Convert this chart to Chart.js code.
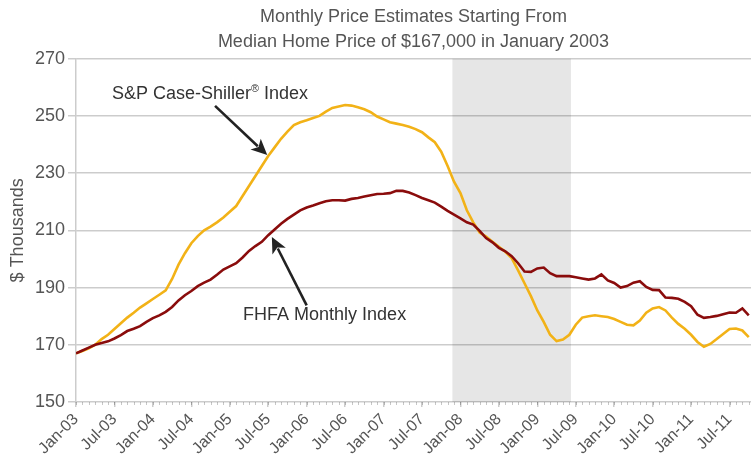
<!DOCTYPE html>
<html><head><meta charset="utf-8">
<script src="https://cdn.jsdelivr.net/npm/chart.js@4"></script>
<style>html,body{margin:0;padding:0;background:#fff}#wrap{width:751px;height:462px;position:relative}</style>
</head><body><div id="wrap"><canvas id="c"></canvas></div>
<script>
// Tick labels every six months starting Jan-03 (month index 0)
const tickLabels = ['Jan-03','Jul-03','Jan-04','Jul-04','Jan-05','Jul-05','Jan-06','Jul-06','Jan-07','Jul-07','Jan-08','Jul-08','Jan-09','Jul-09','Jan-10','Jul-10','Jan-11','Jul-11'];
// Monthly values, $ thousands, Jan-03 .. Oct-11
const caseShiller = [167.0,167.8,168.8,170.0,172.0,173.5,175.5,177.5,179.5,181.2,183.0,184.5,186.0,187.5,189.0,193.0,198.0,202.0,205.5,208.0,
210.0,211.3,212.8,214.5,216.5,218.5,222.0,225.5,229.0,232.5,236.0,239.0,242.0,244.5,246.8,247.8,248.5,249.3,250.0,251.5,
252.8,253.3,253.8,253.6,253.0,252.3,251.3,249.8,248.8,247.8,247.3,246.8,246.2,245.4,244.3,242.5,240.8,237.5,232.5,227.0,
223.0,217.0,212.8,209.2,207.8,206.0,204.3,202.5,200.3,196.0,191.5,187.0,182.0,178.0,173.5,171.3,171.8,173.5,177.0,179.5,
180.0,180.3,180.0,179.7,179.0,178.0,177.0,176.8,178.5,181.2,182.7,183.2,182.0,179.5,177.3,175.6,173.5,171.0,169.3,170.3,
172.0,173.8,175.5,175.7,175.0,172.7];
const fhfa = [167.0,168.0,169.0,170.0,170.6,171.2,172.2,173.4,174.8,175.6,176.5,178.0,179.3,180.3,181.5,183.2,185.5,187.3,188.8,190.5,
191.7,192.8,194.5,196.3,197.4,198.5,200.5,202.8,204.5,206.0,208.3,210.3,212.3,214.0,215.5,217.0,218.0,218.7,219.5,220.2,
220.5,220.5,220.4,221.0,221.3,221.8,222.3,222.7,222.8,223.0,223.8,223.8,223.2,222.3,221.3,220.5,219.7,218.3,216.8,215.5,
214.2,212.8,212.0,209.8,207.3,205.8,203.9,202.7,201.0,198.5,195.6,195.5,196.7,197.0,195.0,194.0,194.0,194.0,193.6,193.2,
192.8,193.2,194.6,192.5,191.6,190.0,190.5,191.7,192.2,190.2,189.2,189.1,186.5,186.4,186.1,185.0,183.5,180.5,179.4,179.7,
180.1,180.7,181.3,181.2,182.7,180.3];
// Recession shading, in month-index units
const recessionSpan = [58.75, 77.25];
// Annotations (data coordinates: month index, $ thousands)
const annotations = [
  {parts:[['S&P Case-Shiller',1],['®',0.6],[' Index',1]], at:[20.9,257.7], from:[21.7,253.5], to:[29.85,236.3]},
  {parts:[['FHFA Monthly Index',1]], at:[38.8,180.3], from:[36.0,183.8], to:[30.57,207.7]}
];

const FONT = "'Liberation Sans', Arial, Helvetica, sans-serif";
const GRID = 'rgba(0,0,0,0.2)';

const pts = arr => arr.map((v,i)=>({x:i,y:v}));

const shadePlugin = {
  id:'shade',
  beforeDraw(chart){
    const {ctx, chartArea:a, scales:{x}} = chart;
    const x0 = x.getPixelForValue(recessionSpan[0]), x1 = x.getPixelForValue(recessionSpan[1]);
    ctx.save(); ctx.fillStyle='#e6e6e6'; ctx.fillRect(x0,a.top,x1-x0,a.bottom-a.top); ctx.restore();
  }
};
const minorTicks = {
  id:'minor',
  afterDraw(chart){
    const {ctx, chartArea:a, scales:{x}} = chart;
    ctx.save(); ctx.strokeStyle='rgba(0,0,0,0.22)'; ctx.lineWidth=1;
    for(let i=0;i<caseShiller.length;i++){
      const px = Math.round(x.getPixelForValue(i))+0.5;
      ctx.beginPath(); ctx.moveTo(px,a.bottom); ctx.lineTo(px,a.bottom+3); ctx.stroke();
    }
    ctx.restore();
  }
};
const annoPlugin = {
  id:'anno',
  afterDatasetsDraw(chart){
    const {ctx, scales:{x,y}} = chart;
    ctx.save();
    annotations.forEach(an=>{
      const size=18;
      let total=0;
      an.parts.forEach(([t,s])=>{ctx.font=`${size*s}px ${FONT}`; total+=ctx.measureText(t).width;});
      let cx = x.getPixelForValue(an.at[0]) - total/2, cy = y.getPixelForValue(an.at[1]);
      ctx.fillStyle='#333'; ctx.textBaseline='middle'; ctx.textAlign='left';
      an.parts.forEach(([t,s])=>{ctx.font=`${size*s}px ${FONT}`; ctx.fillText(t,cx,cy-(s<1?5:0)); cx+=ctx.measureText(t).width;});
      const fx=x.getPixelForValue(an.from[0]), fy=y.getPixelForValue(an.from[1]);
      const tx=x.getPixelForValue(an.to[0]), ty=y.getPixelForValue(an.to[1]);
      const ang=Math.atan2(ty-fy,tx-fx), hl=16, hw=7.5;
      const bx=tx-hl*Math.cos(ang), by=ty-hl*Math.sin(ang);
      ctx.strokeStyle='#222'; ctx.lineWidth=2.6;
      ctx.beginPath(); ctx.moveTo(fx,fy); ctx.lineTo(bx+3*Math.cos(ang),by+3*Math.sin(ang)); ctx.stroke();
      ctx.fillStyle='#222'; ctx.beginPath(); ctx.moveTo(tx,ty);
      ctx.lineTo(bx+hw*Math.sin(ang), by-hw*Math.cos(ang));
      ctx.lineTo(bx+4*Math.cos(ang), by+4*Math.sin(ang));
      ctx.lineTo(bx-hw*Math.sin(ang), by+hw*Math.cos(ang));
      ctx.closePath(); ctx.fill();
    });
    ctx.restore();
  }
};

new Chart(document.getElementById('c'), {
  type:'line',
  data:{datasets:[
    {label:'FHFA Monthly Index', data:pts(fhfa), borderColor:'#8a0c0c', borderWidth:2.6, pointRadius:0, tension:0, order:0},
    {label:'S&P Case-Shiller Index', data:pts(caseShiller), borderColor:'#f2b217', borderWidth:2.6, pointRadius:0, tension:0, order:1}
  ]},
  options:{
    responsive:true, maintainAspectRatio:false, animation:false, devicePixelRatio:1,
    layout:{padding:{left:0,right:0,top:0,bottom:0}},
    plugins:{
      legend:{display:false}, tooltip:{enabled:false},
      title:{display:true, fullSize:false, text:['Monthly Price Estimates Starting From','Median Home Price of $167,000 in January 2003'],
        color:'#555', font:{family:FONT,size:18,weight:'normal',lineHeight:25/18}, padding:{top:5,bottom:3.7}}
    },
    scales:{
      x:{type:'linear', min:0, max:105.35,
        afterBuildTicks:s=>{s.ticks=tickLabels.map((_,k)=>({value:k*6}));},
        afterFit:s=>{s.height=60; s.paddingLeft=0; s.paddingRight=0;},
        ticks:{autoSkip:false, maxRotation:45, minRotation:45, color:'#555', padding:3,
          font:{family:FONT,size:16}, callback:v=>tickLabels[Math.round(v/6)]},
        grid:{drawOnChartArea:false, tickLength:5, color:GRID, lineWidth:1.5},
        border:{display:false}
      },
      y:{min:150, max:270,
        afterFit:s=>{s.width=76;},
        ticks:{stepSize:20, color:'#555', padding:3, font:{family:FONT,size:18}},
        grid:{color:GRID, lineWidth:1.5, tickLength:8},
        border:{display:true, color:GRID, width:1.5},
        title:{display:true, text:'$ Thousands', color:'#555', font:{family:FONT,size:18}, padding:{top:7,bottom:0}}
      }
    }
  },
  plugins:[shadePlugin, minorTicks, annoPlugin]
});
</script>
</body></html>
